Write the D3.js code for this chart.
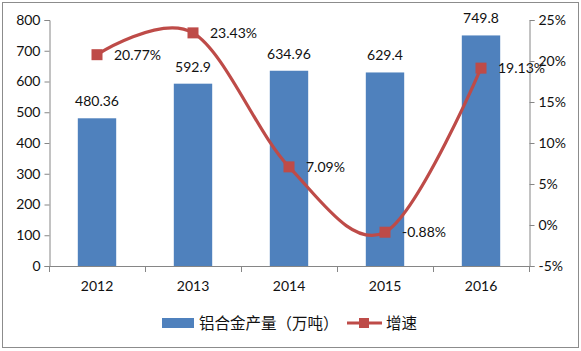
<!DOCTYPE html>
<html>
<head>
<meta charset="utf-8">
<script src="https://cdn.jsdelivr.net/npm/d3@7"></script>
<style>
html,body{margin:0;padding:0;background:#fff;}
svg text{font-family:Lato,"Noto Sans CJK SC",sans-serif;}
</style>
</head>
<body>
<svg id="c" width="581" height="351"></svg>
<script>
const years = ["2012","2013","2014","2015","2016"];
const output = [480.36, 592.9, 634.96, 629.4, 749.8];
const outputLabels = ["480.36","592.9","634.96","629.4","749.8"];
const growth = [20.77, 23.43, 7.09, -0.88, 19.13];
const growthLabels = ["20.77%","23.43%","7.09%","-0.88%","19.13%"];
const leftTicks = [0,100,200,300,400,500,600,700,800];
const rightTicks = [-5,0,5,10,15,20,25];
const seriesNames = ["铝合金产量（万吨）","增速"];

const svg = d3.select("#c");
const axisColor = "#868686";
const barColor = "#4F81BD";
const lineColor = "#BE4B48";

svg.append("rect").attr("x",2.5).attr("y",2.5).attr("width",576).attr("height",345)
  .attr("fill","#fff").attr("stroke","#8c8c8c").attr("stroke-width",1);

const L = 49, R = 529, T = 20, B = 266;
const x = d3.scaleBand().domain(years).range([L,R]).paddingInner(0.6).paddingOuter(0.3);
const step = x.step();
const yL = d3.scaleLinear().domain([0,800]).range([B,T]);
const yR = d3.scaleLinear().domain([-5,25]).range([B,T]);
const cx = d => x(d) + x.bandwidth()/2;

// bars
svg.append("g").selectAll("rect").data(years).join("rect")
  .attr("x", d => x(d)).attr("width", x.bandwidth())
  .attr("y", (d,i) => yL(output[i])).attr("height", (d,i) => B - yL(output[i]))
  .attr("fill", barColor);

// left axis
const gl = svg.append("g").attr("transform",`translate(${L+0.5},0)`)
  .call(d3.axisLeft(yL).tickValues(leftTicks).tickSize(5).tickPadding(4));
gl.select(".domain").attr("stroke",axisColor);
gl.selectAll(".tick line").attr("stroke",axisColor);
gl.selectAll(".tick text").attr("font-size","14px").attr("fill","#111");

// right axis
const gr = svg.append("g").attr("transform",`translate(${R+0.5},0)`)
  .call(d3.axisRight(yR).tickValues(rightTicks).tickSize(5).tickPadding(4).tickFormat(d => d + "%"));
gr.select(".domain").attr("stroke",axisColor);
gr.selectAll(".tick line").attr("stroke",axisColor);
gr.selectAll(".tick text").attr("font-size","14px").attr("fill","#111");

// bottom axis
const gb = svg.append("g").attr("transform",`translate(0,${B+0.5})`)
  .call(d3.axisBottom(x).tickSize(0).tickPadding(15));
gb.select(".domain").attr("stroke",axisColor).attr("d",`M${L},0H${R}`);
gb.selectAll(".tick text").attr("font-size","14px").attr("fill","#111");
const bounds = years.map(d => cx(d) - step/2).concat([cx(years[years.length-1]) + step/2]);
svg.append("g").selectAll("line").data(bounds).join("line")
  .attr("x1", d => Math.round(d)+0.5).attr("x2", d => Math.round(d)+0.5)
  .attr("y1", B).attr("y2", B+6).attr("stroke", axisColor);

// bar labels
svg.append("g").selectAll("text").data(years).join("text")
  .attr("x", d => cx(d)).attr("y", (d,i) => yL(output[i]) - 12)
  .attr("text-anchor","middle").attr("font-size","14px").attr("fill","#111")
  .text((d,i) => outputLabels[i]);

// line
const pts = years.map((d,i) => [cx(d), yR(growth[i])]);
svg.append("path").attr("d", d3.line().curve(d3.curveCardinal.tension(0))(pts))
  .attr("fill","none").attr("stroke",lineColor).attr("stroke-width",3.2);
svg.append("g").selectAll("rect").data(pts).join("rect")
  .attr("x", d => d[0]-5.5).attr("y", d => d[1]-5.5).attr("width",11).attr("height",11)
  .attr("fill", lineColor);
svg.append("g").selectAll("text").data(pts).join("text")
  .attr("x", d => d[0]+17).attr("y", d => d[1]+5)
  .attr("font-size","14px").attr("fill","#111")
  .text((d,i) => growthLabels[i]);

// legend
const lg = svg.append("g");
lg.append("rect").attr("x",162).attr("y",318).attr("width",32).attr("height",10).attr("fill",barColor);
lg.append("text").attr("x",199).attr("y",329).attr("font-size","15.5px")
  .attr("font-family","'Noto Sans CJK SC'").attr("fill","#111").text(seriesNames[0]);
lg.append("line").attr("x1",347).attr("x2",382).attr("y1",323).attr("y2",323)
  .attr("stroke",lineColor).attr("stroke-width",3.2);
lg.append("rect").attr("x",359).attr("y",318).attr("width",10).attr("height",10).attr("fill",lineColor);
lg.append("text").attr("x",386).attr("y",329).attr("font-size","15.5px")
  .attr("font-family","'Noto Sans CJK SC'").attr("fill","#111").text(seriesNames[1]);
</script>
</body>
</html>
